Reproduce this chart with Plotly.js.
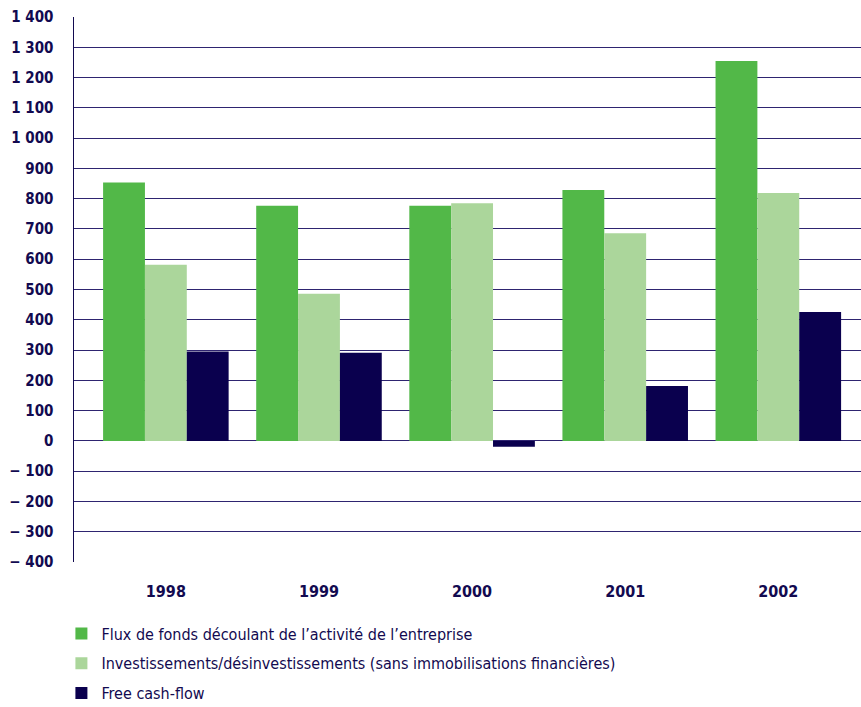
<!DOCTYPE html>
<html><head><meta charset="utf-8">
<script src="https://cdn.plot.ly/plotly-3.0.1.min.js"></script>
<style>body{margin:0;background:#fff}#c{width:861px;height:707px}</style>
</head><body><div id="c"></div>
<script>
const years = ["1998","1999","2000","2001","2002"];
const fluxFonds = [853, 777, 777, 829, 1255];
const investissements = [582, 486, 785, 686, 819];
const freeCashFlow = [295, 291, -19, 181, 426];
const seriesNames = [
  "Flux de fonds découlant de l’activité de l’entreprise",
  "Investissements/désinvestissements (sans immobilisations financières)",
  "Free cash-flow"
];
const tickVals = [-400,-300,-200,-100,0,100,200,300,400,500,600,700,800,900,1000,1100,1200,1300,1400];
const tickText = ["− 400","− 300","− 200","− 100","0","100","200","300","400","500","600","700","800","900","1 000","1 100","1 200","1 300","1 400"];

const navy = "#120a50";
const fontFam = "'DejaVu Sans Condensed', 'DejaVu Sans', sans-serif";
const cols = ["#52b848", "#abd69b", "#0a004e"];
const data = [fluxFonds, investissements, freeCashFlow].map((v,i)=>({
  type:"bar", x: years, y: v, name: seriesNames[i], legendgroup: "g"+i,
  marker:{color: cols[i], line:{width:0}}
}));
const layout = {
  width:861, height:707,
  margin:{l:74, r:0, t:17, b:145, autoexpand:false},
  paper_bgcolor:"#fff", plot_bgcolor:"#fff",
  barmode:"group", bargap:0.18, bargroupgap:0,
  font:{family: fontFam, color: navy, size:16},
  xaxis:{type:"category", range:[-0.6, 4.54], showgrid:false, zeroline:false,
    showline:false, ticks:"", ticklabelstandoff:18,
    tickfont:{family: fontFam, size:16, color: navy, weight:"bold"}},
  yaxis:{range:[-400,1400], tickvals: tickVals, ticktext: tickText,
    showgrid:true, gridcolor:"#2e2470", gridwidth:1,
    zeroline:true, zerolinecolor:"#2e2470", zerolinewidth:1,
    showline:true, linecolor:navy, linewidth:1.5, ticks:"", ticklabelstandoff:16,
    tickfont:{family: fontFam, size:15, color: navy, weight:"bold"}},
  showlegend:true,
  legend:{orientation:"v", x:-0.016, xanchor:"left", y:-0.1, yanchor:"top",
    font:{family: fontFam, size:16, color: navy}, tracegroupgap:6,
    traceorder:"grouped", itemwidth:30, bgcolor:"rgba(0,0,0,0)"}
};
Plotly.newPlot("c", data, layout, {displayModeBar:false, staticPlot:true});
</script></body></html>
